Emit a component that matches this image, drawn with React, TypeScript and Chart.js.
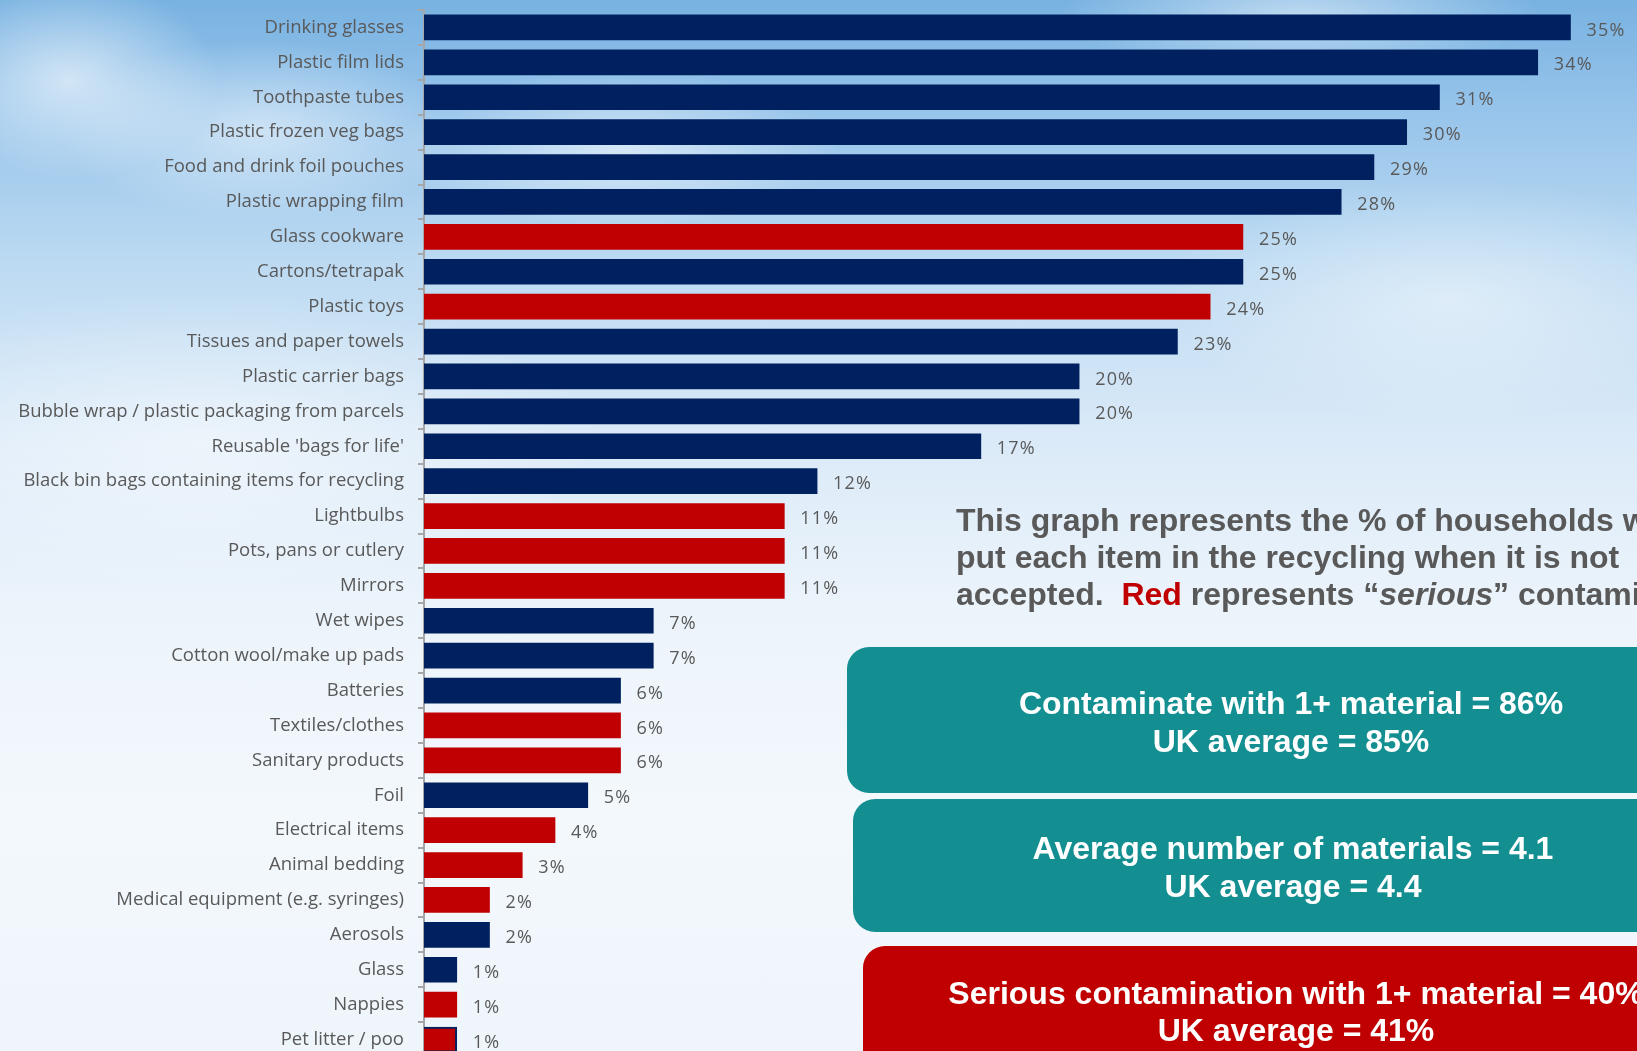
import React, { useEffect, useRef } from "react";
import { Chart, registerables } from "chart.js";

Chart.register(...registerables);

const categories = [
  "Drinking glasses",
  "Plastic film lids",
  "Toothpaste tubes",
  "Plastic frozen veg bags",
  "Food and drink foil pouches",
  "Plastic wrapping film",
  "Glass cookware",
  "Cartons/tetrapak",
  "Plastic toys",
  "Tissues and paper towels",
  "Plastic carrier bags",
  "Bubble wrap / plastic packaging from parcels",
  "Reusable 'bags for life'",
  "Black bin bags containing items for recycling",
  "Lightbulbs",
  "Pots, pans or cutlery",
  "Mirrors",
  "Wet wipes",
  "Cotton wool/make up pads",
  "Batteries",
  "Textiles/clothes",
  "Sanitary products",
  "Foil",
  "Electrical items",
  "Animal bedding",
  "Medical equipment (e.g. syringes)",
  "Aerosols",
  "Glass",
  "Nappies",
  "Pet litter / poo",
];

const values = [35, 34, 31, 30, 29, 28, 25, 25, 24, 23, 20, 20, 17, 12, 11, 11, 11, 7, 7, 6, 6, 6, 5, 4, 3, 2, 2, 1, 1, 1];

// true = "serious" contamination (red)
const serious = [
  false, false, false, false, false, false, true, false, true, false,
  false, false, false, false, true, true, true, false, false, false,
  true, true, false, true, true, true, false, false, true, true,
];

// bars drawn with a navy outline
const outlined = [
  false, false, false, false, false, false, false, false, false, false,
  false, false, false, false, false, false, false, false, false, false,
  false, false, false, false, false, false, false, false, false, true,
];

const NAVY = "#00205f";
const RED = "#c00000";
const GREY_TEXT = "#595959";

const valueLabels = {
  id: "valueLabels",
  afterDatasetsDraw(chart: any) {
    const ctx = chart.ctx;
    const meta = chart.getDatasetMeta(0);
    ctx.save();
    ctx.font = '18px "Open Sans"';
    try {
      (ctx as any).letterSpacing = "1.2px";
    } catch (e) {}
    ctx.fillStyle = GREY_TEXT;
    ctx.textBaseline = "middle";
    ctx.textAlign = "left";
    meta.data.forEach((bar: any, i: number) => {
      ctx.fillText(values[i] + "%", bar.x + 16, bar.y + 3);
    });
    try {
      (ctx as any).letterSpacing = "0px";
    } catch (e) {}
    ctx.restore();
  },
};

function BarChart() {
  const ref = useRef<HTMLCanvasElement | null>(null);
  useEffect(() => {
    if (!ref.current) return;
    const chart = new Chart(ref.current, {
      type: "bar",
      data: {
        labels: categories,
        datasets: [
          {
            data: values,
            backgroundColor: serious.map((s) => (s ? RED : NAVY)),
            borderColor: outlined.map(() => NAVY),
            borderWidth: outlined.map((o) => (o ? 2 : 0)),
            barThickness: 25,
          },
        ],
      },
      options: {
        indexAxis: "y",
        responsive: false,
        animation: false,
        layout: { padding: { top: 10, bottom: 13, left: 0, right: 1 } },
        plugins: {
          legend: { display: false },
          tooltip: { enabled: false },
          title: { display: false },
        },
        scales: {
          x: { display: false, min: 0, max: 37 },
          y: {
            grid: {
              display: true,
              drawOnChartArea: false,
              drawTicks: true,
              tickLength: 6,
              color: "#a6a6a6",
              lineWidth: 2,
              offset: true,
            },
            border: { display: true, color: "#a6a6a6", width: 2 },
            ticks: {
              color: GREY_TEXT,
              font: { family: "Open Sans", size: 18.5 },
              padding: 14,
              autoSkip: false,
            },
            afterFit: (s: any) => {
              s.width = 424;
              s.paddingTop = 0;
              s.paddingBottom = 0;
            },
          },
        },
      },
      plugins: [valueLabels],
    } as any);
    return () => chart.destroy();
  }, []);
  return (
    <canvas
      ref={ref}
      width={1637}
      height={1070}
      style={{ position: "absolute", left: 0, top: 0, width: 1637, height: 1070 }}
    />
  );
}

const boxText: React.CSSProperties = {
  position: "absolute",
  color: "#ffffff",
  fontFamily: '"Liberation Sans", Arial, sans-serif',
  fontWeight: 700,
  fontSize: 32,
  lineHeight: "38px",
  textAlign: "center",
  whiteSpace: "nowrap",
};

export default function App() {
  return (
    <div
      style={{
        position: "fixed",
        left: 0,
        top: 0,
        width: 1637,
        height: 1051,
        overflow: "hidden",
        background: [
          "radial-gradient(ellipse 150px 100px at 70px 80px, rgba(255,255,255,0.6), rgba(255,255,255,0) 100%)",
          "radial-gradient(ellipse 200px 90px at 260px 130px, rgba(255,255,255,0.5), rgba(255,255,255,0) 100%)",
          "radial-gradient(ellipse 220px 80px at 620px 150px, rgba(255,255,255,0.55), rgba(255,255,255,0) 100%)",
          "radial-gradient(ellipse 240px 60px at 1300px 15px, rgba(255,255,255,0.5), rgba(255,255,255,0) 100%)",
          "radial-gradient(ellipse 300px 120px at 1450px 300px, rgba(255,255,255,0.45), rgba(255,255,255,0) 100%)",
          "radial-gradient(ellipse 400px 150px at 200px 440px, rgba(255,255,255,0.5), rgba(255,255,255,0) 100%)",
          "linear-gradient(to bottom, #78b2e1 0%, #95c3ea 10%, #bcdaf2 25%, #dbeaf8 42%, #ecf4fb 58%, #f3f8fc 78%, #eef5fb 100%)",
        ].join(", "),
      }}
    >
      <BarChart />
      <div
        style={{
          position: "absolute",
          left: 956,
          top: 502,
          color: GREY_TEXT,
          fontFamily: '"Liberation Sans", Arial, sans-serif',
          fontWeight: 700,
          fontSize: 32,
          lineHeight: "37px",
          whiteSpace: "nowrap",
        }}
      >
        This graph represents the % of households who
        <br />
        put each item in the recycling when it is not
        <br />
        accepted.&nbsp; <span style={{ color: RED }}>Red</span> represents “<i>serious</i>” contamination.
      </div>
      <div
        style={{
          position: "absolute",
          left: 847,
          top: 647,
          width: 900,
          height: 146,
          borderRadius: 22,
          background: "#148f91",
        }}
      />
      <div style={{ ...boxText, left: 847, width: 888, top: 684 }}>
        Contaminate with 1+ material = 86%
        <br />
        UK average = 85%
      </div>
      <div
        style={{
          position: "absolute",
          left: 853,
          top: 799,
          width: 900,
          height: 133,
          borderRadius: 22,
          background: "#148f91",
        }}
      />
      <div style={{ ...boxText, left: 853, width: 880, top: 829 }}>
        Average number of materials = 4.1
        <br />
        UK average = 4.4
      </div>
      <div
        style={{
          position: "absolute",
          left: 863,
          top: 946,
          width: 900,
          height: 200,
          borderRadius: 22,
          background: RED,
        }}
      />
      <div style={{ ...boxText, left: 863, width: 866, top: 975, lineHeight: "37px" }}>
        Serious contamination with 1+ material = 40%
        <br />
        UK average = 41%
      </div>
    </div>
  );
}
